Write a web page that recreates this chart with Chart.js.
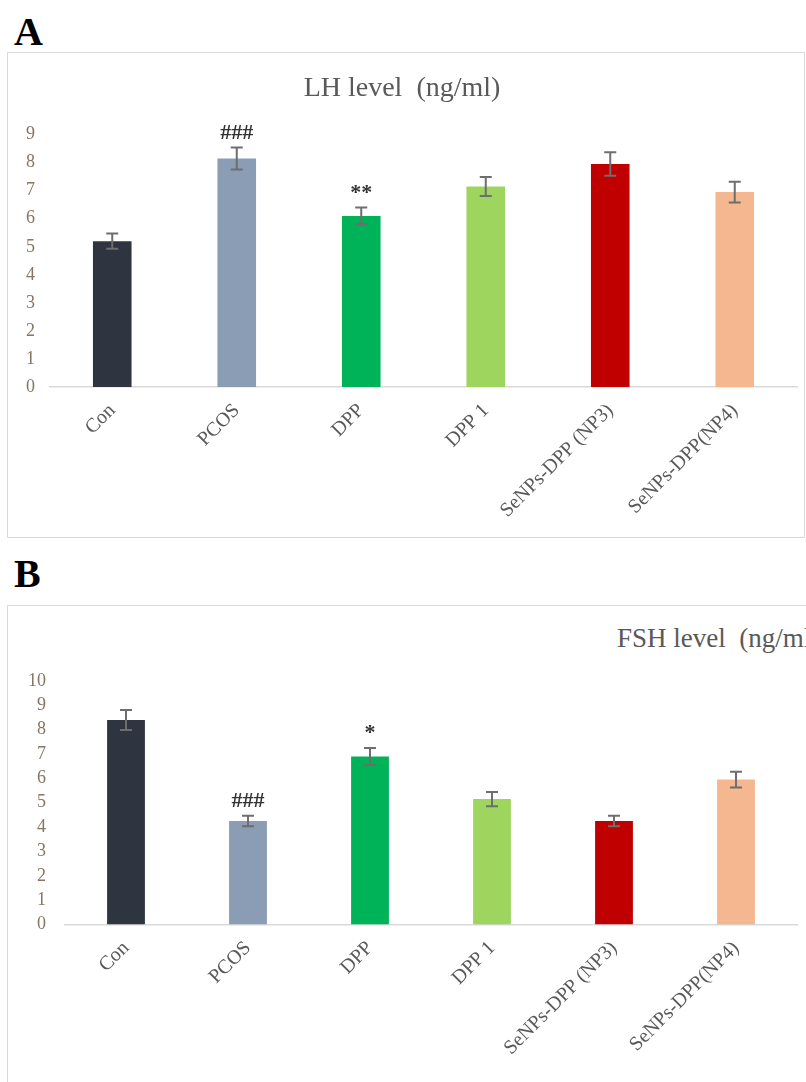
<!DOCTYPE html>
<html>
<head>
<meta charset="utf-8">
<script src="https://cdn.jsdelivr.net/npm/chart.js@4.4.1/dist/chart.umd.min.js"></script>
<style>
	html, body { margin: 0; padding: 0; background: #fff; }
	body { position: relative; width: 806px; height: 1082px; overflow: hidden; font-family: "Liberation Serif", serif; }
	.panel-letter { position: absolute; font-weight: bold; font-size: 40px; color: #000; line-height: 1; }
	.box { position: absolute; border: 1px solid #d9d9d9; box-sizing: border-box; }
	canvas { position: absolute; }
	#fshTitle { position: absolute; left: 617px; top: 622px; font-size: 27px; color: #595959; white-space: pre; line-height: 1.2; }
</style>
</head>
<body>
<div class="panel-letter" style="left:14px; top:12px;">A</div>
<div class="box" style="left:7px; top:52px; width:798px; height:486px;"></div>
<canvas id="lhChart" width="798" height="485" style="left:7px; top:52px; width:798px; height:485px;"></canvas>

<div class="panel-letter" style="left:14px; top:554px;">B</div>
<div class="box" style="left:7px; top:605px; width:900px; height:600px;"></div>
<div id="fshTitle">FSH level  (ng/ml)</div>
<canvas id="fshChart" width="799" height="477" style="left:7px; top:605px; width:799px; height:477px;"></canvas>

<script>
// groups on the x axis
const categories = ["Con", "PCOS", "DPP", "DPP 1", "SeNPs-DPP (NP3)", "SeNPs-DPP(NP4)"];

// LH level (ng/ml), mean and error
const lhMeans = [5.2, 8.15, 6.1, 7.15, 7.95, 6.95];
const lhErrors = [0.27, 0.39, 0.3, 0.34, 0.42, 0.37];
const lhMarks = ["", "###", "**", "", "", ""];

// FSH level (ng/ml), mean and error
const fshMeans = [8.4, 4.25, 6.9, 5.15, 4.25, 5.95];
const fshErrors = [0.41, 0.22, 0.35, 0.29, 0.22, 0.32];
const fshMarks = ["", "###", "*", "", "", ""];

const barColors = ["#2e3440", "#8b9db5", "#00b358", "#9dd55f", "#c00000", "#f4b78f"];

const serif = "'Liberation Serif', 'Times New Roman', serif";
const textGrey = "#595959";
const tickColor = "#857565";

// error bars + significance marks above them
const errorBars = {
	id: "errorBars",
	afterDatasetsDraw(chart, args, opts) {
		const { ctx, scales: { x, y } } = chart;
		const values = chart.data.datasets[0].data;
		ctx.save();
		ctx.strokeStyle = "#6e6e6e";
		ctx.lineWidth = 2;
		ctx.fillStyle = "#333";
		ctx.font = "bold 22px " + serif;
		ctx.textAlign = "center";
		ctx.textBaseline = "alphabetic";
		values.forEach((v, i) => {
			const px = x.getPixelForValue(i);
			const top = y.getPixelForValue(v + opts.errors[i]);
			const bot = y.getPixelForValue(v - opts.errors[i]);
			ctx.beginPath();
			ctx.moveTo(px, top);
			ctx.lineTo(px, bot);
			ctx.moveTo(px - 6, top);
			ctx.lineTo(px + 6, top);
			ctx.moveTo(px - 6, bot);
			ctx.lineTo(px + 6, bot);
			ctx.stroke();
			if (opts.marks[i]) {
				ctx.fillText(opts.marks[i], px, top - 9);
			}
		});
		ctx.restore();
	},
};

function makeChart(id, means, errors, marks, yMax, cfg) {
	return new Chart(document.getElementById(id), {
		type: "bar",
		data: {
			labels: categories,
			datasets: [
				{
					data: means,
					backgroundColor: barColors,
					borderWidth: 0,
					categoryPercentage: 1,
					barPercentage: 0.31,
				},
			],
		},
		options: {
			responsive: false,
			animation: false,
			layout: { padding: cfg.padding },
			plugins: {
				legend: { display: false },
				tooltip: { enabled: false },
				title: cfg.title,
				errorBars: { errors: errors, marks: marks },
			},
			scales: {
				y: {
					min: 0,
					max: yMax,
					grid: { display: false, drawTicks: false },
					border: { display: false },
					ticks: {
						stepSize: 1,
						autoSkip: false,
						padding: cfg.yPad,
						color: tickColor,
						font: { family: serif, size: 18 },
					},
					afterFit: (s) => { s.width = cfg.yWidth; },
				},
				x: {
					grid: { display: false, drawTicks: false },
					border: { display: true, color: "#d9d9d9", width: 1.5 },
					ticks: {
						autoSkip: false,
						maxRotation: 45,
						minRotation: 45,
						padding: 12,
						color: textGrey,
						font: { family: serif, size: 20 },
					},
					afterFit: (s) => { s.height = cfg.xHeight; },
				},
			},
		},
		plugins: [errorBars],
	});
}

makeChart("lhChart", lhMeans, lhErrors, lhMarks, 9, {
	padding: { left: 0, right: 8, top: 0, bottom: 0 },
	title: {
		display: true,
		text: "LH level  (ng/ml)",
		color: textGrey,
		font: { family: serif, size: 28, weight: "normal" },
		padding: { top: 20, bottom: 29 },
	},
	yPad: 15,
	yWidth: 43,
	xHeight: 150,
});

makeChart("fshChart", fshMeans, fshErrors, fshMarks, 10, {
	padding: { left: 0, right: 9, top: 76, bottom: 0 },
	title: { display: false },
	yPad: 19,
	yWidth: 58,
	xHeight: 157.5,
});
</script>
</body>
</html>
